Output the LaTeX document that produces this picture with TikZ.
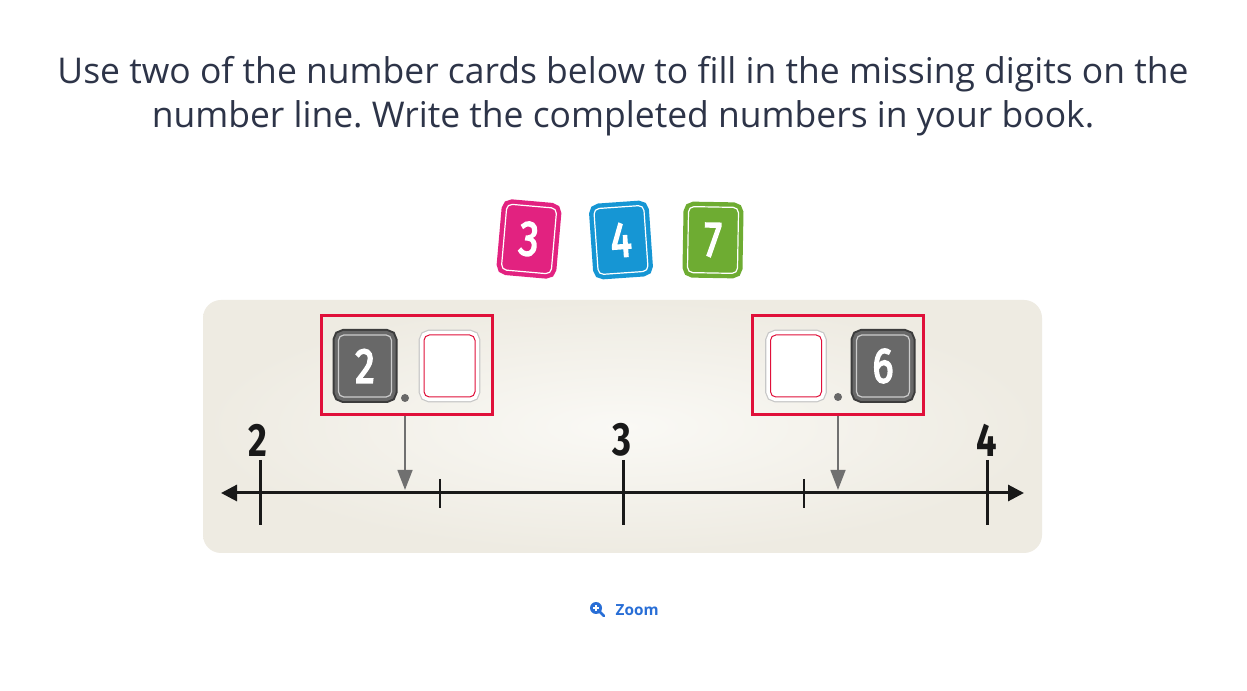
\documentclass[tikz,border=0pt]{standalone}
\usepackage{fontspec}
\setmainfont{Open Sans}
\newfontfamily\numfont{Fira Sans}
\newfontfamily\cardfont[FakeBold=3.5]{Fira Sans}
\usetikzlibrary{arrows.meta,calc}
\frenchspacing
\definecolor{titlecol}{RGB}{45,52,72}
\definecolor{cpink}{RGB}{226,34,128}
\definecolor{cblue}{RGB}{22,150,212}
\definecolor{cgreen}{RGB}{110,172,50}
\definecolor{cgrey}{RGB}{104,104,104}
\definecolor{cgreydark}{RGB}{60,60,60}
\definecolor{redbox}{RGB}{224,16,58}
\definecolor{panelin}{RGB}{250,249,245}
\definecolor{panelout}{RGB}{238,235,226}
\definecolor{arrowgrey}{RGB}{112,112,112}
\definecolor{linkblue}{RGB}{40,110,214}
\tikzset{
  cardnum/.style={text=white,font=\cardfont\fontsize{37}{37}\selectfont, inner sep=0},
  colcard/.style={minimum width=37.5pt, minimum height=49.5pt, rounded corners=4pt, fill=#1, draw=white, line width=0.9pt,
     preaction={draw=#1, line width=7.5pt, fill=#1}},
  greycard/.style={minimum width=39.75pt, minimum height=46.5pt, rounded corners=4pt, fill=cgrey, draw=white!80!black, line width=0.9pt,
     preaction={draw=cgreydark, line width=9pt}, preaction={draw=cgrey, line width=6pt}},
  blankcard/.style={minimum width=38.25pt, minimum height=46.5pt, rounded corners=4pt, fill=white, draw=redbox, line width=0.75pt,
     preaction={draw=black!22, line width=8pt}, preaction={draw=white, line width=6.2pt}},
  redframe/.style={draw=redbox, line width=2.25pt, minimum width=128.25pt, minimum height=74.25pt},
  decdot/.style={circle, fill=cgrey, inner sep=0, minimum size=6pt},
  ptr/.style={draw=arrowgrey, line width=1.9pt, -{Triangle[length=15pt,width=11pt]}},
  nline/.style={draw=black!90, line width=2.25pt, {Triangle[length=12pt,width=12pt]}-{Triangle[length=12pt,width=12pt]}},
  majtick/.style={draw=black!90, line width=2.25pt},
  mintick/.style={draw=black!90, line width=1.7pt},
  ticklab/.style={text=black!90, font=\numfont\bfseries\fontsize{35}{35}\selectfont},
}
\begin{document}
\begin{tikzpicture}[x=0.75pt,y=-0.75pt]
\useasboundingbox (0,0) rectangle (1247,691);
\fill[white] (0,0) rectangle (1247,691);
% title
\node[text=titlecol, font=\fontsize{26.6}{33}\selectfont, align=center] (title) at (623,96)
  {Use two of the number cards below to fill in the missing digits on the\\number line. Write the completed numbers in your book.};
% cards
\node[colcard=cpink, rotate=-5, cardnum] (c3) at (529,239) {\scalebox{0.8}[1]{3}};
\node[colcard=cblue, rotate=4, cardnum] (c4) at (621,240) {\scalebox{0.8}[1]{4}};
\node[colcard=cgreen, rotate=-1, cardnum] (c7) at (713,240) {\scalebox{0.8}[1]{7}};
% panel
\shade[inner color=panelin, outer color=panelout, rounded corners=13.5pt] (203,300) rectangle (1042,553);
\node[inner sep=0, minimum width=629pt, minimum height=190pt] (panel) at (622.5,426.5) {};
% red frames
\node[redframe] (boxL) at (406.5,365.5) {};
\node[redframe] (boxR) at (837.5,365.5) {};
\node[greycard, cardnum] (g2) at (365,366) {\scalebox{0.8}[1]{2}};
\node[decdot] (dotL) at (405,398) {};
\node[blankcard] (bL) at (449.5,366) {};
\node[blankcard] (bR) at (796,366) {};
\node[decdot] (dotR) at (838,397) {};
\node[greycard, cardnum] (g6) at (883,366) {\scalebox{0.8}[1]{6}};
% number line
\coordinate (nlL) at (221,493);
\coordinate (nlR) at (1024,493);
\draw[nline] (nlL) -- (nlR);
\coordinate (t2) at (260,493);
\coordinate (t3) at (623,493);
\coordinate (t4) at (987,493);
\coordinate (m1) at (440,493);
\coordinate (m2) at (804,493);
\draw[majtick] ($(t2)+(0,-33)$) -- ($(t2)+(0,32)$);
\draw[majtick] ($(t3)+(0,-33)$) -- ($(t3)+(0,32)$);
\draw[majtick] ($(t4)+(0,-33)$) -- ($(t4)+(0,32)$);
\draw[mintick] ($(m1)+(0,-14)$) -- ($(m1)+(0,15)$);
\draw[mintick] ($(m2)+(0,-14)$) -- ($(m2)+(0,15)$);
\node[ticklab] (l2) at (258,440) {\scalebox{0.78}[1]{2}};
\node[ticklab] (l3) at (622,440) {\scalebox{0.78}[1]{3}};
\node[ticklab] (l4) at (987,440) {\scalebox{0.78}[1]{4}};
% pointers
\coordinate (pL) at (405,490);
\coordinate (pR) at (838,490);
\draw[ptr] (boxL.south -| pL) -- (pL);
\draw[ptr] (boxR.south -| pR) -- (pR);
% zoom link
\node[circle, fill=linkblue, inner sep=0, minimum size=9pt] (zicon) at (596,608) {};
\draw[white, line width=1pt] ($(zicon)+(-3,0)$) -- ($(zicon)+(3,0)$) ($(zicon)+(0,-3)$) -- ($(zicon)+(0,3)$);
\draw[linkblue, line width=2pt, line cap=round] ($(zicon)+(4,4)$) -- ($(zicon)+(8,8)$);
\node[text=linkblue, font=\bfseries\fontsize{11.5}{12}\selectfont, anchor=west] (zoomtxt) at (611,610) {Zoom};
\end{tikzpicture}
\end{document}
